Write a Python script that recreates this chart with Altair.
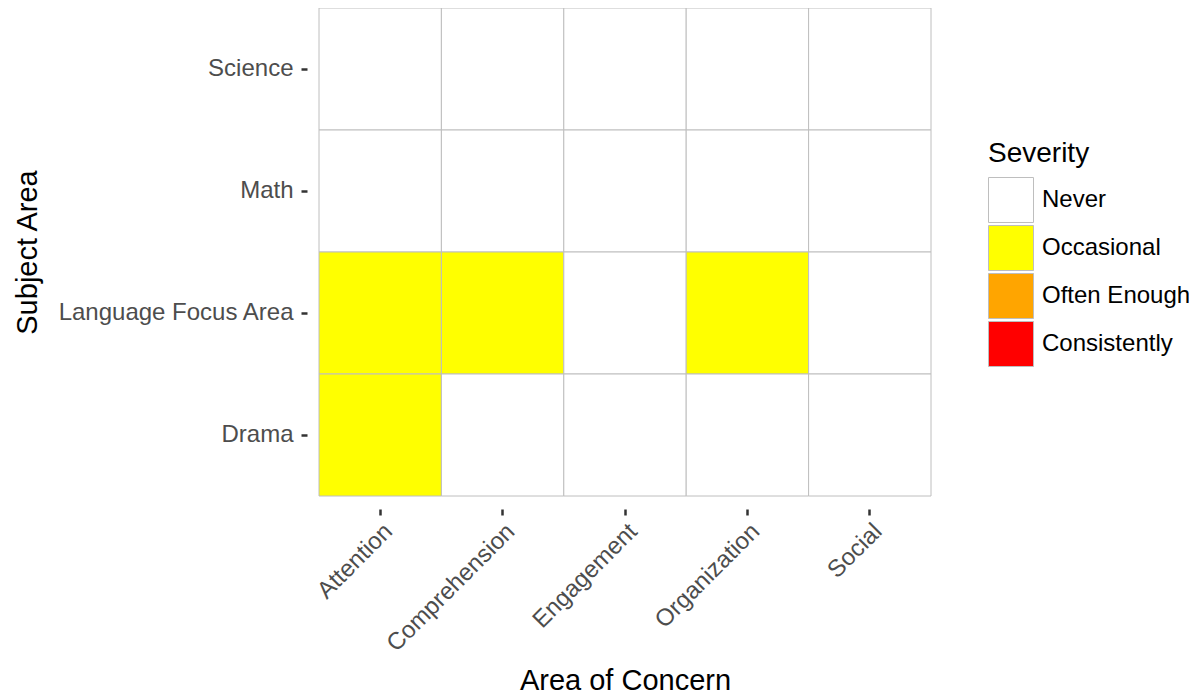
import altair as alt
import pandas as pd

subjects = ["Science", "Math", "Language Focus Area", "Drama"]
concerns = ["Attention", "Comprehension", "Engagement", "Organization", "Social"]
levels = ["Never", "Occasional", "Often Enough", "Consistently"]
level_colors = ["#FFFFFF", "#FFFF00", "#FFA500", "#FF0000"]

# severity per subject (rows) x concern (columns)
severity = {
    "Science": ["Never", "Never", "Never", "Never", "Never"],
    "Math": ["Never", "Never", "Never", "Never", "Never"],
    "Language Focus Area": ["Occasional", "Occasional", "Never", "Occasional", "Never"],
    "Drama": ["Occasional", "Never", "Never", "Never", "Never"],
}

rows = []
for s in subjects:
    for c, v in zip(concerns, severity[s]):
        rows.append({"Subject": s, "Concern": c, "Severity": v})
df = pd.DataFrame(rows)

FONT = "Liberation Sans"

chart = alt.Chart(df).mark_rect(stroke="#BEBEBE", strokeWidth=1).encode(
    x=alt.X("Concern:N", sort=concerns,
            scale=alt.Scale(paddingInner=0, paddingOuter=0),
            axis=alt.Axis(title="Area of Concern", labelAngle=-45, labelAlign="right",
                          labelBaseline="top", labelPadding=4, labelFontSize=24,
                          labelColor="#4d4d4d", labelFont=FONT, labelLimit=400,
                          titleFontSize=29, titleFont=FONT, titleColor="#000000",
                          titleFontWeight="normal", titleY=171, titleBaseline="middle",
                          domain=False, grid=False, offset=13, tickSize=6,
                          tickWidth=2.5, tickColor="#333333")),
    y=alt.Y("Subject:N", sort=subjects,
            scale=alt.Scale(paddingInner=0, paddingOuter=0),
            axis=alt.Axis(title="Subject Area", labelPadding=8, labelFontSize=24,
                          labelColor="#4d4d4d", labelFont=FONT, labelLimit=400,
                          titleFontSize=29, titleFont=FONT, titleColor="#000000",
                          titleFontWeight="normal", titleX=-280, titleBaseline="middle",
                          domain=False, grid=False, offset=12, tickSize=6,
                          tickWidth=2.5, tickColor="#333333")),
    color=alt.Color("Severity:N",
                    scale=alt.Scale(domain=levels, range=level_colors),
                    legend=alt.Legend(title="Severity", orient="none", legendX=669,
                                      legendY=132, padding=0, titleFontSize=28,
                                      titleFont=FONT, titleFontWeight="normal",
                                      titleColor="#000000", titlePadding=9,
                                      labelFontSize=24, labelFont=FONT,
                                      labelColor="#000000", labelOffset=8,
                                      labelLimit=300, symbolType="square",
                                      symbolSize=2025, symbolStrokeColor="#BEBEBE",
                                      symbolStrokeWidth=1, symbolOpacity=1,
                                      rowPadding=-7)),
).properties(
    width=612, height=488,
    padding={"left": 311, "top": 0, "right": 258, "bottom": 200},
    autosize=alt.AutoSizeParams(type="none"),
).configure_view(strokeWidth=0)

chart.save("out.html", embed_options={"renderer": "svg", "actions": False})
